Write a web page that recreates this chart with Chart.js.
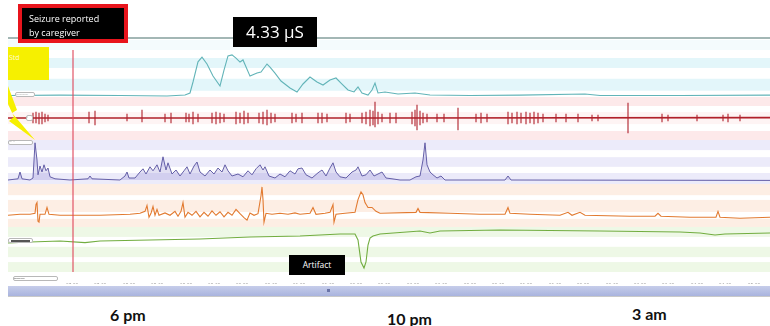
<!DOCTYPE html>
<html><head><meta charset="utf-8">
<script src="https://cdn.jsdelivr.net/npm/chart.js@4.4.0/dist/chart.umd.min.js"></script>
<style>
html,body{margin:0;padding:0;background:#fff;width:770px;height:326px;overflow:hidden;position:relative;font-family:"Open Sans",sans-serif}
canvas{position:absolute;left:8px}
.abs{position:absolute}
.tag{position:absolute;background:#fff;border:1px solid #b8b8b8;border-radius:2px;box-sizing:border-box;font-size:3px;color:#777;line-height:3px;overflow:hidden}
.big{position:absolute;font-family:Lato,sans-serif;font-weight:700;font-size:16px;color:#111}
</style></head><body>

<div class="abs" style="left:8px;top:37px;width:762px;height:2px;background:#a3b7b5"></div>

<canvas id="eda" width="762" height="57" style="top:40px"></canvas>
<canvas id="acc" width="762" height="43" style="top:97px"></canvas>
<canvas id="pur" width="762" height="44" style="top:140px"></canvas>
<canvas id="ora" width="762" height="43" style="top:184px"></canvas>
<canvas id="grn" width="762" height="57" style="top:227px"></canvas>

<div class="abs" style="left:8px;top:286px;width:762px;height:10px;background:linear-gradient(#c6cdea,#a9b4de);border-bottom:1px solid #c9c9c9"></div>
<div class="abs" style="left:327px;top:289px;width:3px;height:3px;background:#6a74a8"></div>

<div class="tag" style="left:15px;top:92px;width:20px;height:5px">————</div>
<div class="tag" style="left:26px;top:115px;width:7px;height:6px">+</div>
<div class="tag" style="left:8px;top:140px;width:25px;height:5px">···· ··</div>
<div class="tag" style="left:8px;top:238px;width:25px;height:5px"><div style="margin:1px 2px;height:2px;background:#555"></div></div>
<div class="tag" style="left:13px;top:276px;width:45px;height:5px">▪▪▪▪▪▪▪▪▪▪</div>

<svg class="abs" style="left:0;top:0" width="60" height="150">
<polygon points="8,86 17,110 12,113 35,140 9,121 14,117 8,104" fill="#f6f000"/>
</svg>
<div class="abs" style="left:8px;top:47px;width:41px;height:33px;background:#f6f000;color:#fffbd0;font-size:7px;line-height:7px;padding:7px 0 0 1px;box-sizing:border-box">Std</div>

<div class="abs" style="left:18px;top:4px;width:110px;height:39px;background:#000;border:4px solid #e8141c;box-sizing:border-box;color:#fff;font-size:9px;line-height:14px;padding:4px 0 0 7px">Seizure reported<br>by caregiver</div>
<div class="abs" style="left:233px;top:17px;width:84px;height:30px;background:#000;color:#fff;font-size:17px;line-height:30px;text-align:center">4.33 µS</div>
<div class="abs" style="left:289px;top:255px;width:56px;height:20px;background:#000;color:#fff;font-size:8.5px;line-height:20px;text-align:center">Artifact</div>

<div class="big" style="left:110px;top:305px">6 pm</div>
<div class="big" style="left:387px;top:309px">10 pm</div>
<div class="big" style="left:632px;top:304px">3 am</div>

<script>
// time axis: sample index (≈1 min per sample)
const seizureT = 65;
const tickPos = [64,92,121,149,178,206,234,263,291,320,348,376,405,433,462,490,518,547,575,604,632,660,689,717,746];
const tickLabels = ['17:00','17:30','18:00','18:30','19:00','19:30','20:00','20:30','21:00','21:30','22:00','22:30','23:00','23:30','00:00','00:30','01:00','01:30','02:00','02:30','03:00','03:30','04:00','04:30','05:00'];

// EDA (µS)
const edaPts = [[0,0.06],[52,0.1],[112,0.06],[159,0.0],[177,0.11],[182,0.32],[185,1.48],[190,3.6],[194,4.1],[199,3.37],[205,2.11],[212,1.06],[216,2.74],[220,4.22],[224,4.33],[228,4.0],[232,3.58],[235,3.8],[242,2.1],[249,2.42],[253,2.53],[259,3.37],[262,3.05],[267,2.42],[273,1.58],[282,0.85],[289,0.43],[295,1.27],[302,2.0],[309,1.48],[315,1.16],[322,1.69],[328,1.9],[333,1.37],[340,0.64],[346,0.43],[350,0.95],[354,0.32],[360,0.11],[364,0.64],[367,1.37],[370,0.32],[377,0.43],[390,0.22],[407,0.32],[422,0.11],[462,0.06],[512,0.1],[577,0.22],[592,0.06],[672,0.06],[762,0.1]];

// accelerometer: baseline and burst extents
const accBase = [[0,0],[380,0],[762,0.02]];
const accT  = [25,28,31,34,37,40,81,87,119,134,157,163,178,181,185,190,204,208,212,216,228,232,236,240,251,255,259,263,267,284,288,294,310,314,319,338,342,354,358,362,365,367,370,374,382,388,404,407,409,412,415,419,429,436,450,468,473,479,500,504,509,513,518,522,526,530,535,548,558,570,584,590,620,654,660,689,715,720,732];
const accHi = [.25,.3,.25,.3,.2,.15,.3,.35,.2,.4,.2,.25,.25,.2,.3,.2,.25,.3,.25,.2,.3,.25,.35,.25,.25,.3,.4,.25,.2,.25,.2,.25,.25,.25,.2,.25,.2,.25,.3,.4,.35,.8,.3,.2,.25,.25,.3,.4,.65,.35,.25,.2,.2,.2,.5,.2,.25,.2,.3,.25,.3,.25,.3,.25,.3,.25,.2,.2,.2,.2,.15,.15,.75,.2,.15,.15,.15,.2,.15];
const accLo = [-.25,-.25,-.3,-.3,-.2,-.15,-.25,-.35,-.15,-.2,-.2,-.25,-.2,-.2,-.3,-.2,-.25,-.3,-.25,-.2,-.3,-.25,-.3,-.25,-.25,-.3,-.35,-.25,-.2,-.25,-.2,-.25,-.25,-.25,-.2,-.25,-.2,-.25,-.3,-.4,-.35,-.45,-.3,-.2,-.25,-.25,-.3,-.4,-.6,-.35,-.25,-.2,-.2,-.2,-.6,-.2,-.25,-.2,-.3,-.25,-.3,-.25,-.3,-.25,-.3,-.25,-.2,-.2,-.2,-.2,-.15,-.15,-.75,-.2,-.15,-.15,-.15,-.2,-.15];

// purple channel
const purPts = [[0,0],[10,0.03],[12,0.2],[14,0.03],[22,0],[25,0.05],[27,0.93],[29,0.5],[30,0.13],[32,0.35],[34,0.2],[36,0.38],[38,0.23],[40,0.3],[42,0.08],[47,0.03],[62,0],[80,0.03],[82,0.1],[84,0.03],[112,0],[117,0.1],[119,0.2],[121,0.05],[127,0.05],[132,0.2],[135,0.28],[138,0.15],[142,0.33],[145,0.23],[149,0.38],[152,0.2],[155,0.58],[158,0.25],[160,0.43],[164,0.15],[168,0.25],[172,0.1],[176,0.23],[179,0.33],[182,0.15],[186,0.35],[189,0.45],[192,0.2],[197,0.1],[202,0.25],[206,0.15],[210,0.3],[214,0.2],[217,0.38],[220,0.23],[224,0.1],[230,0.15],[235,0.08],[240,0.23],[244,0.13],[248,0.28],[252,0.38],[255,0.25],[257,0.33],[261,0.1],[267,0.05],[272,0.15],[277,0.08],[282,0.23],[287,0.15],[290,0.28],[294,0.3],[298,0.13],[304,0.05],[310,0.18],[314,0.25],[318,0.1],[322,0.3],[325,0.43],[328,0.2],[332,0.08],[338,0.05],[344,0.2],[348,0.25],[350,0.33],[354,0.1],[358,0.13],[362,0.25],[366,0.1],[370,0.15],[374,0.2],[378,0.05],[384,0.03],[392,0],[402,0],[408,0.08],[412,0.1],[415,0.5],[417,0.93],[419,0.38],[422,0.2],[425,0.13],[429,0.05],[433,0.1],[437,0],[497,0],[500,0.1],[503,0],[762,-0.01]];

// orange channel
const oraPts = [[0,0],[12,0.05],[22,0.05],[27,0.1],[28,0.55],[29,0.65],[30,-0.3],[31,-0.35],[32,0.05],[37,0.05],[39,0.4],[41,0.05],[52,0],[92,0],[122,0.05],[132,0.1],[137,0.2],[139,0.5],[141,-0.1],[143,0.1],[145,0.45],[147,0],[149,0.3],[151,0],[157,0.12],[162,0],[167,0.2],[170,-0.05],[173,0.2],[175,0.65],[177,-0.1],[180,0.15],[184,0],[188,0.2],[192,-0.08],[196,0.15],[200,-0.05],[204,0.22],[208,0],[212,0.18],[216,-0.08],[220,0.15],[224,0],[228,0.3],[232,0.08],[236,-0.12],[239,-0.25],[242,0.12],[246,0],[250,0.08],[253,1.0],[254,1.45],[255,0.8],[256,-0.35],[258,0.1],[264,0.05],[272,0.1],[280,0.05],[287,0.12],[292,0.05],[302,0.1],[305,0.4],[308,0.05],[317,0.1],[322,0.15],[325,0.55],[326,-0.35],[328,0.05],[337,0.1],[347,0.15],[350,0.8],[353,1.2],[355,1.05],[357,0.65],[360,0.4],[364,0.4],[368,0.2],[372,0.1],[408,0.15],[410,0.35],[412,0.15],[442,0.1],[472,0.05],[497,0.05],[500,0.4],[502,0.1],[522,0.05],[552,0],[560,0.15],[564,0],[572,0.15],[577,0],[622,-0.05],[647,-0.05],[650,0.1],[653,-0.05],[682,-0.1],[708,-0.1],[710,0.2],[712,-0.1],[732,-0.15],[762,-0.1]];

// green channel
const grnPts = [[0,-0.15],[22,-0.1],[52,-0.05],[77,-0.13],[92,-0.05],[142,0],[192,0.05],[242,0.15],[292,0.2],[332,0.3],[347,0.3],[350,0],[353,-1.1],[356,-1.4],[358,-1.1],[360,-0.25],[362,0.1],[365,0.2],[372,0.3],[412,0.45],[422,0.35],[432,0.45],[492,0.5],[592,0.45],[672,0.4],[692,0.35],[707,0.25],[717,0.3],[762,0.35]];

const toXY = a => a.map(p => ({x:p[0], y:p[1]}));

const stripePlugin = {
  id:'stripes',
  beforeDatasetsDraw(chart, args, opts){
    const {ctx, chartArea:a} = chart;
    const h = a.bottom - a.top;
    ctx.save();
    (opts.bands||[]).forEach(b => {
      ctx.fillStyle = b[2] || opts.color;
      ctx.fillRect(a.left, a.top + b[0]*h, a.right-a.left, (b[1]-b[0])*h);
    });
    ctx.restore();
  },
  afterDatasetsDraw(chart, args, opts){
    const {ctx, chartArea:a} = chart;
    const x = chart.scales.x.getPixelForValue(seizureT);
    ctx.save();
    ctx.strokeStyle = 'rgba(222,70,90,0.85)';
    ctx.lineWidth = 1.3;
    ctx.beginPath();
    ctx.moveTo(x, a.top + (opts.lineStart||0));
    ctx.lineTo(x, a.bottom);
    ctx.stroke();
    ctx.restore();
  }
};

function make(id, datasets, yMin, yMax, stripes, xAxis){
  const x = Object.assign({type:'linear', min:0, max:762, offset:false, display:false}, xAxis||{});
  return new Chart(document.getElementById(id), {
    type:'line',
    data:{datasets},
    options:{
      responsive:false, animation:false, devicePixelRatio:1,
      layout:{padding:0},
      elements:{point:{radius:0}, line:{tension:0}},
      scales:{x, y:{min:yMin, max:yMax, display:false}},
      plugins:{legend:{display:false}, tooltip:{enabled:false}, stripes}
    },
    plugins:[stripePlugin]
  });
}

make('eda', [{data:toXY(edaPts), borderColor:'#62b4b8', borderWidth:1.1}], -0.1, 5.9,
  {color:'#e3f6fa', lineStart:10, bands:[[0,0.175,'#f4fbfd'],[0.316,0.49],[0.68,0.89]]});

make('acc', [
  {data:toXY(accBase), borderColor:'#b0202a', borderWidth:1.6},
  {type:'bar', data:accT.map((t,i)=>({x:t, y:[accLo[i], accHi[i]]})), backgroundColor:'rgba(175,35,45,0.6)', barThickness:1.2, grouped:false}
], -1.1, 1.05, {color:'#fde9ea', bands:[[0,0.21],[0.35,0.63,'#fef4f4'],[0.79,1]]});

make('pur', [{data:toXY(purPts), borderColor:'#6560a8', borderWidth:1, fill:'origin', backgroundColor:'rgba(120,110,200,0.22)'}], -0.1, 1.0,
  {color:'#ecebfa', bands:[[0,0.23],[0.39,0.61],[0.75,1]]});

make('ora', [{data:toXY(oraPts), borderColor:'#e27a30', borderWidth:1.1}], -0.6, 1.6,
  {color:'#fdeee4', bands:[[0,0.26],[0.37,0.65],[0.81,1]]});

make('grn', [{data:toXY(grnPts), borderColor:'#72ad40', borderWidth:1.1}], -1.6, 0.65,
  {color:'#eef8e6', bands:[[0,0.22],[0.44,0.67],[0.78,1]]},
  {display:true, grid:{display:false}, border:{display:false},
   afterBuildTicks: s => { s.ticks = tickPos.map(v => ({value:v})); },
   afterFit: s => { s.height = 12; },
   ticks:{autoSkip:false, maxRotation:0, padding:3, color:'#9a9a9a', font:{size:5, family:'Open Sans'},
     callback:(v,i)=>tickLabels[i]}});
</script>
</body></html>
